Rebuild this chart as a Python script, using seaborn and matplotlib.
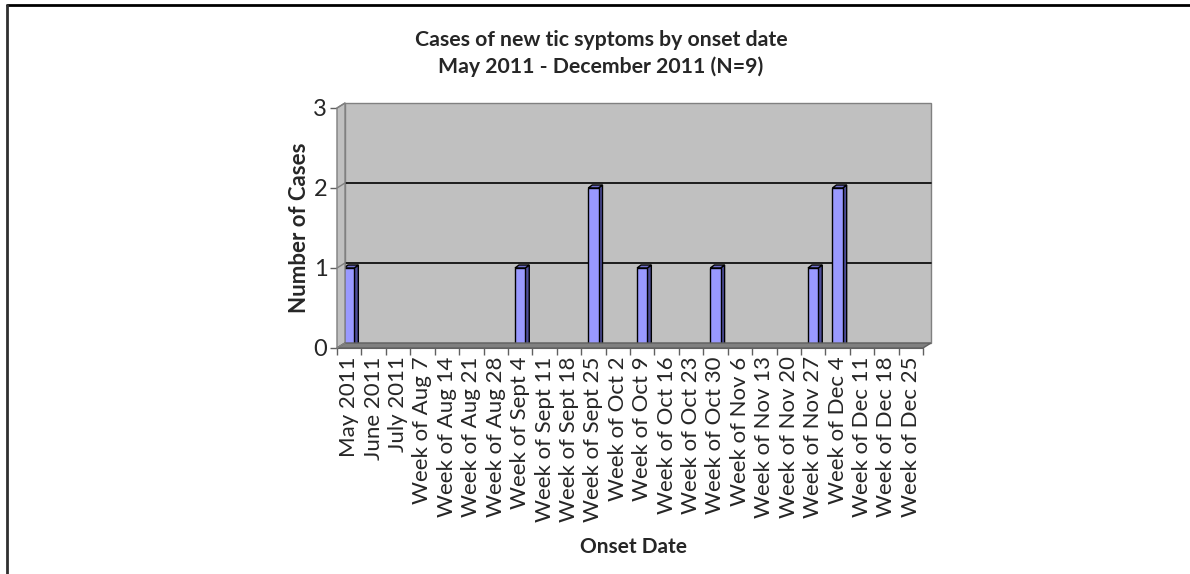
#data visualization
import matplotlib
matplotlib.use("Agg")
import matplotlib.pyplot as plt
import matplotlib.transforms as mtransforms
from matplotlib.patches import Polygon, Rectangle
from matplotlib.lines import Line2D
import seaborn as sns
from pandas import DataFrame

onset = ['May 2011', 'June 2011', 'July 2011', 'Week of Aug 7', 'Week of Aug 14',
         'Week of Aug 21', 'Week of Aug 28', 'Week of Sept 4', 'Week of Sept 11',
         'Week of Sept 18', 'Week of Sept 25', 'Week of Oct 2', 'Week of Oct 9',
         'Week of Oct 16', 'Week of Oct 23', 'Week of Oct 30', 'Week of Nov 6',
         'Week of Nov 13', 'Week of Nov 20', 'Week of Nov 27', 'Week of Dec 4',
         'Week of Dec 11', 'Week of Dec 18', 'Week of Dec 25']
cases = [1, 0, 0, 0, 0, 0, 0, 1, 0, 0, 2, 0, 1, 0, 0, 1, 0, 0, 0, 1, 2, 0, 0, 0]
y_ticks = [0, 1, 2, 3]

df = DataFrame({'onset': onset, 'cases': cases})

sns.set_style('white')
plt.rcParams['font.family'] = ['Lato', 'DejaVu Sans']

W, H = 1190, 574
fig = plt.figure(figsize=(W / 100, H / 100), dpi=100)

# front plane of the 3-d box, in pixels
left, right, bottom, top = 337, 923, 348, 108
ax = fig.add_axes([left / W, 1 - bottom / H, (right - left) / W, (bottom - top) / H])
ax.set_facecolor('none')

# bars first, so ax.patches holds only them
sns.barplot(data=df, x='onset', y='cases', color='#9999FF', saturation=1,
            width=0.42, edgecolor='black', linewidth=1, ax=ax, zorder=3)
bars = list(ax.patches)
ax.set_xlim(-0.5, len(onset) - 0.5)
ax.set_ylim(0, 3)

# depth of the wall and of the bars
wall_off = mtransforms.ScaledTranslation(8 / 100, 5 / 100, fig.dpi_scale_trans)
bar_off = mtransforms.ScaledTranslation(4 / 100, 3 / 100, fig.dpi_scale_trans)

wall_col = '#C0C0C0'
floor_col = '#808080'

fig.canvas.draw()
def px(tr, x, y):
    return tr.transform((x, y))

# back wall
ax.add_patch(Rectangle((0, 0), 1, 1, transform=ax.transAxes + wall_off,
                       facecolor=wall_col, edgecolor='#808080', lw=1, zorder=0,
                       clip_on=False))

fl0 = px(ax.transAxes, 0, 0)
fr0 = px(ax.transAxes, 1, 0)
bl0 = px(ax.transAxes + wall_off, 0, 0)
br0 = px(ax.transAxes + wall_off, 1, 0)
tl_f = px(ax.transAxes, 0, 1)
tl_b = px(ax.transAxes + wall_off, 0, 1)

# left wall and floor in display coords
fig.patches.append(Polygon([fl0, tl_f, tl_b, bl0], closed=True, facecolor=wall_col,
                           edgecolor='#808080', lw=1, zorder=0, transform=None,
                           figure=fig))
fig.patches.append(Polygon([fl0, fr0, br0, bl0], closed=True, facecolor=floor_col,
                           edgecolor='#606060', lw=1, zorder=0, transform=None,
                           figure=fig))

# gridlines on back wall, plus diagonals on the left wall
for v in y_ticks[1:3]:
    ax.plot([-0.5, len(onset) - 0.5], [v, v], color='black', lw=1.2,
            transform=ax.transData + wall_off, zorder=1, clip_on=False)
for v in y_ticks:
    a = px(ax.transData, -0.5, v)
    b = px(ax.transData + wall_off, -0.5, v)
    fig.lines.append(Line2D([a[0], b[0]], [a[1], b[1]], color='#808080', lw=1,
                            transform=None, figure=fig))

# 3-d faces of bars
for p in bars:
    if p.get_height() <= 0:
        continue
    x0, x1 = p.get_x(), p.get_x() + p.get_width()
    y1 = p.get_height()
    side = [px(ax.transData, x1, 0), px(ax.transData, x1, y1),
            px(ax.transData + bar_off, x1, y1), px(ax.transData + bar_off, x1, 0)]
    topf = [px(ax.transData, x0, y1), px(ax.transData, x1, y1),
            px(ax.transData + bar_off, x1, y1), px(ax.transData + bar_off, x0, y1)]
    ax.add_patch(Polygon(side, closed=True, facecolor='#4D4D99', edgecolor='black',
                         lw=1, zorder=2, transform=None, clip_on=False))
    ax.add_patch(Polygon(topf, closed=True, facecolor='#7070CC', edgecolor='black',
                         lw=1, zorder=2, transform=None, clip_on=False))

# axes look
for s in ['top', 'right']:
    ax.spines[s].set_visible(False)
ax.spines['left'].set_color('#808080')
ax.spines['bottom'].set_color('#606060')
ax.set_yticks(y_ticks)
ax.set_yticklabels([str(v) for v in y_ticks], fontsize=17)
ax.tick_params(axis='y', length=5, width=1, color='#606060', pad=2, left=True)
ax.set_xticks(range(len(onset)))
ax.set_xticklabels(onset, rotation=90, fontsize=16)
ax.set_xticks([i - 0.5 for i in range(len(onset) + 1)], minor=True)
ax.tick_params(axis='x', which='major', length=0, pad=6)
ax.tick_params(axis='x', which='minor', length=5, width=1, color='#606060', bottom=True)
ax.set_xlabel('')
ax.set_ylabel('')

fig.text(300 / W, 1 - 228 / H, 'Number of Cases', rotation=90, ha='center',
         va='center', fontsize=16, fontweight='bold')
fig.text(633 / W, 1 - 547 / H, 'Onset Date', ha='center', va='center',
         fontsize=15, fontweight='bold')
fig.text(601 / W, 1 - 40 / H, 'Cases of new tic syptoms by onset date', ha='center',
         va='center', fontsize=15.3, fontweight='bold')
fig.text(601 / W, 1 - 67 / H, 'May 2011 - December 2011 (N=9)', ha='center',
         va='center', fontsize=15.3, fontweight='bold')

# outer frame: top and left edges only
fig.lines.append(Line2D([7 / W, 1], [1 - 5 / H, 1 - 5 / H], color='black', lw=2,
                        transform=fig.transFigure, figure=fig))
fig.lines.append(Line2D([7 / W, 7 / W], [0, 1 - 5 / H], color='#303030', lw=2,
                        transform=fig.transFigure, figure=fig))

fig.savefig('out.png', dpi=100)
